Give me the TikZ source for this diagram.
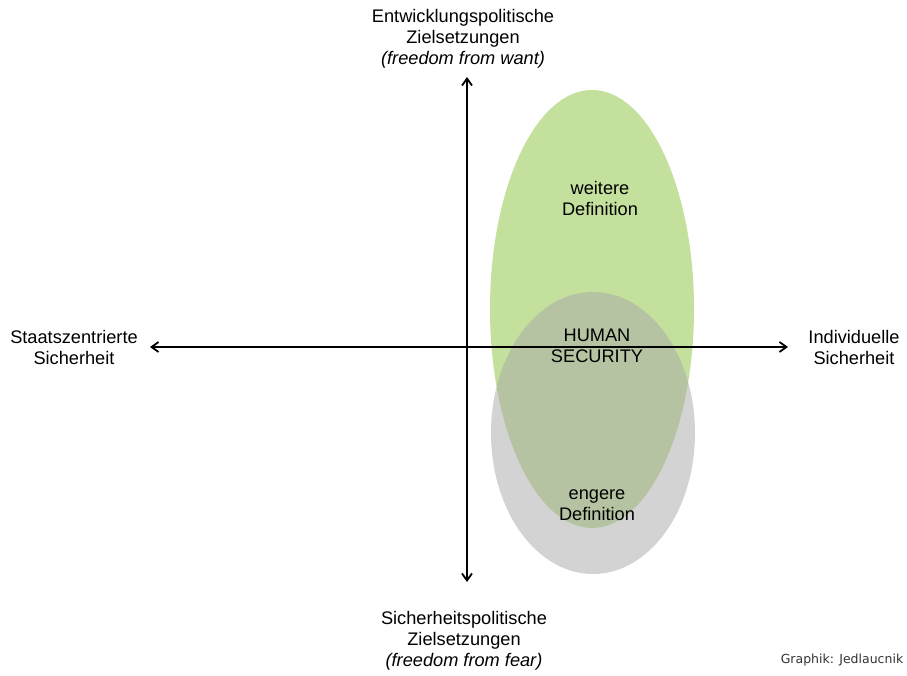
\documentclass[tikz,border=0pt]{standalone}
\usepackage{fontspec}
\setmainfont{Liberation Sans}
\newfontfamily\creditfont{DejaVu Sans}
\usetikzlibrary{arrows.meta}
\definecolor{widegreen}{RGB}{196,224,157}
\definecolor{narrowgray}{RGB}{168,168,168}

\begin{document}
\begin{tikzpicture}[x=1pt, y=-1pt,
  txt/.style={align=center, inner sep=0pt, font=\fontsize{18.2}{21}\selectfont},
  axis/.style={{Straight Barb[length=7pt,width=10pt]}-{Straight Barb[length=7pt,width=10pt]}, line width=1.8pt}]

  \useasboundingbox (0,0) rectangle (907,675);

  % wide and narrow definition
  \fill[widegreen] (592,309) ellipse [x radius=102pt, y radius=219pt];
  \fill[narrowgray, fill opacity=0.5] (593,433) ellipse [x radius=102pt, y radius=141pt];

  % Axis ends
  \coordinate (west) at (150,347);
  \coordinate (east) at (788,347);
  \coordinate (north) at (467,77);
  \coordinate (south) at (467,582);

  \draw[axis] (west) -- (east);
  \draw[axis] (north) -- (south);

  % Axis labels
  \node[txt] (want) at (463,39) {Entwicklungspolitische\\Zielsetzungen\\\textit{(freedom from want)}};
  \node[txt] (fear) at (464,641) {Sicherheitspolitische\\Zielsetzungen\\\textit{(freedom from fear)}};
  \node[txt] (state) at (74,347) {Staatszentrierte\\Sicherheit};
  \node[txt] (indiv) at (854,347) {Individuelle\\Sicherheit};

  % Ellipse labels
  \node[txt] (wide) at (600,198) {weitere\\Definition};
  \node[txt] (human) at (597,346) {HUMAN\\SECURITY};
  \node[txt] (narrow) at (597,505) {engere\\Definition};

  \node[font=\creditfont\fontsize{12.5}{14}\selectfont, text=black!80, inner sep=0pt] (credit) at (842,660) {Graphik: Jedlaucnik};

\end{tikzpicture}
\end{document}
